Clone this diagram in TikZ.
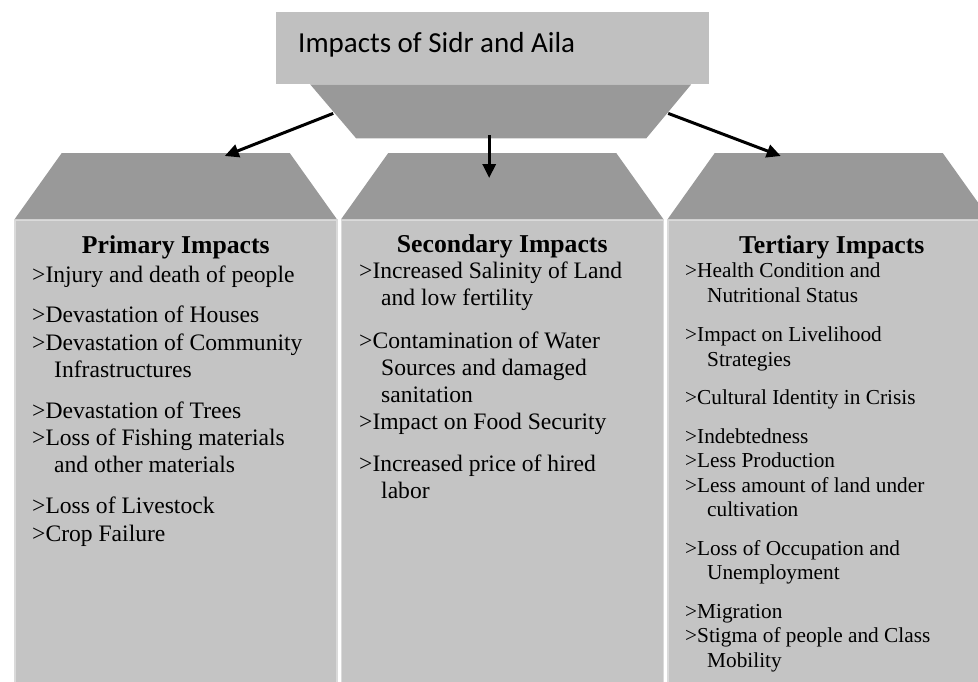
\documentclass[tikz,border=0pt]{standalone}
\usepackage{fontspec}
\setmainfont{Liberation Serif}
\newfontfamily\carlito{Carlito}
\usetikzlibrary{arrows.meta, positioning, calc}

\definecolor{bodygray}{HTML}{C4C4C4}
\definecolor{bodyedge}{HTML}{DADADA}
\definecolor{roofgray}{HTML}{999999}
\definecolor{titlegray}{HTML}{C0C0C0}

\newcommand{\indt}{\hspace*{22pt}}

\begin{document}
\begin{tikzpicture}[
  x=1pt, y=-1pt,
  titlebox/.style={fill=titlegray, minimum width=433pt, minimum height=72pt, inner sep=0pt},
  basebox/.style ={minimum width=381pt, minimum height=54pt, inner sep=0pt, outer sep=0pt},
  body/.style  ={draw=bodyedge, line width=1.5pt, fill=bodygray, minimum width=322pt,
                 minimum height=470pt, inner sep=0pt},
  roof/.style  ={minimum width=322pt, minimum height=66pt, inner sep=0pt, outer sep=0pt},
  head/.style  ={font=\fontsize{25.7}{30}\selectfont\bfseries, anchor=base, inner sep=0pt},
  items/.style ={align=left, anchor=base west, inner sep=0pt},
  arr/.style   ={-{Triangle[length=14pt, width=13pt]}, line width=3pt},
]
\useasboundingbox (0,0) rectangle (978,681);
\clip (0,0) rectangle (978,681);

%% ---- Top: title box ----
\node[titlebox, anchor=north west] (title) at (276,12) {};
\node[basebox, below=0pt of title, xshift=8pt] (tbase) {};
\fill[roofgray] (tbase.north west) -- (tbase.north east)
  -- ($(tbase.south east)+(-45,0)$) -- ($(tbase.south west)+(46,0)$) -- cycle;
\node[anchor=base west, inner sep=0pt, font=\carlito\fontsize{29}{34}\selectfont]
  (ttl) at ($(title.north west)+(22,40)$) {Impacts of Sidr and Aila};

%% ---- Houses: bodies and roofs ----
\node[body, anchor=north west] (prim) at (14,219) {};
\node[body, right=3pt of prim] (sec) {};
\node[body, right=3pt of sec]  (ter) {};
\node[roof, above=0pt of prim] (proof) {};
\node[roof, above=0pt of sec]  (sroof) {};
\node[roof, above=0pt of ter]  (troof) {};
\foreach \r in {proof, sroof, troof}
  \fill[roofgray] (\r.south west) -- ($(\r.north west)+(47,0)$)
    -- ($(\r.north east)+(-47,0)$) -- (\r.south east) -- cycle;

%% ---- Column 1: Primary ----
\node[head] (phead) at (prim.center |- 0,253) {Primary Impacts};
\node[items, font=\fontsize{23.6}{27.3}\selectfont] (plist) at (32,541)
  {>Injury and death of people\\[13.5pt]
   >Devastation of Houses\\
   >Devastation of Community\\
   \indt Infrastructures\\[13.5pt]
   >Devastation of Trees\\
   >Loss of Fishing materials\\
   \indt and other materials\\[13.5pt]
   >Loss of Livestock\\
   >Crop Failure};

%% ---- Column 2: Secondary ----
\node[head] (shead) at (sec.center |- 0,252) {Secondary Impacts};
\node[items, font=\fontsize{23.6}{27}\selectfont] (slist) at (359,498)
  {>Increased Salinity of Land\\
   \indt and low fertility\\[15.5pt]
   >Contamination of Water\\
   \indt Sources and damaged\\
   \indt sanitation\\
   >Impact on Food Security\\[15pt]
   >Increased price of hired\\
   \indt labor};

%% ---- Column 3: Tertiary ----
\node[head] (thead) at ($(ter.center |- 0,253)+(3,0)$) {Tertiary Impacts};
\node[items, font=\fontsize{21.3}{24.4}\selectfont] (tlist) at (685,667)
  {>Health Condition and\\
   \indt Nutritional Status\\[15pt]
   >Impact on Livelihood\\
   \indt Strategies\\[14pt]
   >Cultural Identity in Crisis\\[14.5pt]
   >Indebtedness\\
   >Less Production\\
   >Less amount of land under\\
   \indt cultivation\\[14.5pt]
   >Loss of Occupation and\\
   \indt Unemployment\\[14pt]
   >Migration\\
   >Stigma of people and Class\\
   \indt Mobility};

%% ---- Arrows ----
\draw[arr] ($(tbase.west)+(23,2)$) -- ($(proof.north)+(49,3)$);
\draw[arr] ($(tbase.south)+(-11.5,-3)$) -- ($(tbase.south |- sroof.north)+(-11.5,25)$);
\draw[arr] ($(tbase.east)+(-23,2)$) -- ($(troof.north)+(-48,3)$);

\end{tikzpicture}
\end{document}
